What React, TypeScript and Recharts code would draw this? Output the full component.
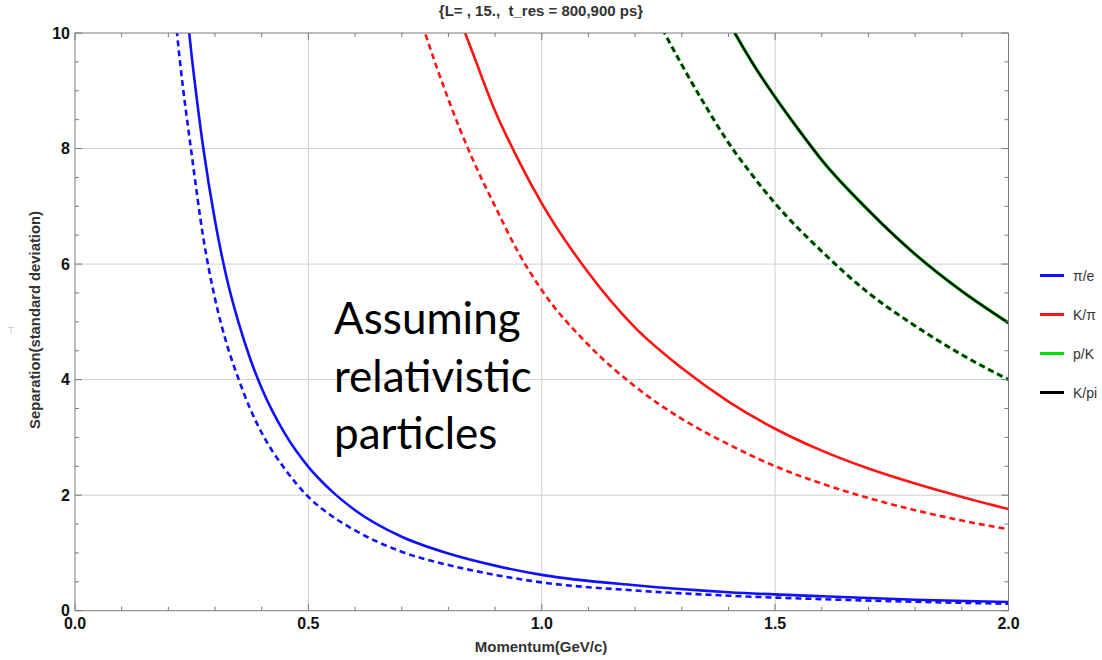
import React from "react";
import { LineChart, Line, XAxis, YAxis, CartesianGrid, Legend } from "recharts";

// [momentum GeV/c, separation in sigma]; values above 10 run off the top of the frame
const piE800: [number, number][] = [
  [0.225, 11.5], [0.25, 9.6], [0.275, 8.0], [0.3, 6.75], [0.325, 5.76], [0.35, 5.0],
  [0.375, 4.37], [0.4, 3.85], [0.45, 3.06], [0.5, 2.49], [0.55, 2.07], [0.6, 1.74],
  [0.7, 1.28], [0.8, 0.99], [0.9, 0.78], [1.0, 0.62], [1.2, 0.44], [1.4, 0.32],
  [1.6, 0.25], [1.8, 0.19], [2.0, 0.15],
];
const piE900: [number, number][] = [
  [0.2, 11.6], [0.225, 9.5], [0.25, 7.9], [0.275, 6.45], [0.3, 5.4], [0.325, 4.62],
  [0.35, 4.02], [0.375, 3.5], [0.4, 3.08], [0.45, 2.45], [0.5, 1.97], [0.55, 1.64],
  [0.6, 1.39], [0.7, 1.02], [0.8, 0.79], [0.9, 0.62], [1.0, 0.49], [1.2, 0.35],
  [1.4, 0.26], [1.6, 0.2], [1.8, 0.155], [2.0, 0.12],
];
const kPi800: [number, number][] = [
  [0.8, 10.75], [0.85, 9.7], [0.9, 8.65], [0.95, 7.8], [1.0, 7.05], [1.1, 5.85],
  [1.2, 4.9], [1.3, 4.2], [1.4, 3.62], [1.5, 3.15], [1.6, 2.77], [1.7, 2.46],
  [1.8, 2.2], [1.9, 1.97], [2.0, 1.76],
];
const kPi900: [number, number][] = [
  [0.7, 11.3], [0.75, 10.0], [0.8, 8.85], [0.85, 7.85], [0.9, 7.0], [0.95, 6.2],
  [1.0, 5.55], [1.1, 4.6], [1.2, 3.88], [1.3, 3.32], [1.4, 2.88], [1.5, 2.5],
  [1.6, 2.2], [1.7, 1.95], [1.8, 1.74], [1.9, 1.56], [2.0, 1.41],
];
const pK800: [number, number][] = [
  [1.35, 11.0], [1.4, 10.2], [1.45, 9.5], [1.5, 8.89], [1.55, 8.33], [1.6, 7.8],
  [1.7, 6.93], [1.8, 6.17], [1.9, 5.53], [2.0, 4.98],
];
const pK900: [number, number][] = [
  [1.2, 11.0], [1.25, 10.2], [1.3, 9.45], [1.35, 8.75], [1.4, 8.1], [1.45, 7.55],
  [1.5, 7.05], [1.6, 6.22], [1.7, 5.5], [1.8, 4.93], [1.9, 4.43], [2.0, 4.0],
];

const legendOrder = ["π/e", "K/π", "p/K", "K/pi"];

const xTicks = [0, 0.1, 0.2, 0.3, 0.4, 0.5, 0.6, 0.7, 0.8, 0.9, 1.0, 1.1, 1.2, 1.3, 1.4, 1.5, 1.6, 1.7, 1.8, 1.9, 2.0];
const xLabels = [0, 0.5, 1.0, 1.5, 2.0];
const yTicks = [0, 0.5, 1, 1.5, 2, 2.5, 3, 3.5, 4, 4.5, 5, 5.5, 6, 6.5, 7, 7.5, 8, 8.5, 9, 9.5, 10];
const yLabels = [0, 2, 4, 6, 8, 10];

const toRows = (pts: [number, number][]) => pts.map(([p, s]) => ({ p, s }));

const BLUE = "#1010ff";
const RED = "#ff1414";
const GREEN = "#00e000";
const BLACK = "#000000";
const FRAME = "#7a7a7a";
const tickFont = { fontFamily: "Liberation Sans, Arial, sans-serif", fontWeight: 700, fontSize: 16, fill: "#111" };

const isLabel = (list: number[], v: number) => list.some((l) => Math.abs(l - v) < 1e-6);

function BottomTick(props: any) {
  const { x, y, payload } = props;
  const major = isLabel(xLabels, payload.value);
  return (
    <g>
      <line x1={x} x2={x} y1={y} y2={y - (major ? 7 : 4)} stroke={FRAME} />
      {major && (
        <text x={x} y={y + 18.5} textAnchor="middle" {...tickFont}>
          {payload.value.toFixed(1)}
        </text>
      )}
    </g>
  );
}

function TopTick(props: any) {
  const { x, y, payload } = props;
  const major = isLabel(xLabels, payload.value);
  return <line x1={x} x2={x} y1={y} y2={y + (major ? 7 : 4)} stroke={FRAME} />;
}

function LeftTick(props: any) {
  const { x, y, payload } = props;
  const major = isLabel(yLabels, payload.value);
  return (
    <g>
      <line x1={x} x2={x + (major ? 7 : 4)} y1={y} y2={y} stroke={FRAME} />
      {major && (
        <text x={x - 5} y={y + 5.5} textAnchor="end" {...tickFont}>
          {payload.value}
        </text>
      )}
    </g>
  );
}

function RightTick(props: any) {
  const { x, y, payload } = props;
  const major = isLabel(yLabels, payload.value);
  return <line x1={x} x2={x - (major ? 7 : 4)} y1={y} y2={y} stroke={FRAME} />;
}

function LegendBox(props: any) {
  const items = (props.payload || [])
    .filter((item: any) => legendOrder.includes(item.value))
    .sort((a: any, b: any) => legendOrder.indexOf(a.value) - legendOrder.indexOf(b.value));
  return (
    <div>
      {items.map((item: any) => (
        <div key={item.value} style={{ display: "flex", alignItems: "center", height: 39 }}>
          <div style={{ width: 24, height: 3, background: item.color, marginRight: 9 }} />
          <span style={{ fontFamily: "Liberation Sans, Arial, sans-serif", fontSize: 14, color: "#333" }}>
            {item.value}
          </span>
        </div>
      ))}
    </div>
  );
}

export default function App() {
  const common = { type: "monotone" as const, dataKey: "s", dot: false, isAnimationActive: false, activeDot: false };
  return (
    <div style={{ position: "absolute", left: 0, top: 0, width: 1102, height: 660, background: "#fff" }}>
      <LineChart width={1102} height={660} margin={{ top: 32, right: 92.5, bottom: 19.3, left: 35 }}>
        <CartesianGrid
          stroke="#cfcfcf"
          horizontalValues={[2, 4, 6, 8]}
          verticalValues={[0.5, 1.0, 1.5]}
        />
        <XAxis
          type="number"
          dataKey="p"
          domain={[0, 2]}
          ticks={xTicks}
          allowDataOverflow
          height={30}
          tickSize={0}
          tickMargin={0}
          tickLine={false}
          axisLine={{ stroke: FRAME }}
          tick={<BottomTick />}
          interval={0}
        />
        <XAxis
          xAxisId="top"
          orientation="top"
          type="number"
          dataKey="p"
          domain={[0, 2]}
          ticks={xTicks}
          allowDataOverflow
          height={1}
          tickSize={0}
          tickMargin={0}
          tickLine={false}
          axisLine={{ stroke: FRAME }}
          tick={<TopTick />}
          interval={0}
        />
        <YAxis
          type="number"
          domain={[0, 10]}
          ticks={yTicks}
          allowDataOverflow
          width={40}
          tickSize={0}
          tickMargin={0}
          tickLine={false}
          axisLine={{ stroke: FRAME }}
          tick={<LeftTick />}
          interval={0}
        />
        <YAxis
          yAxisId="right"
          orientation="right"
          type="number"
          domain={[0, 10]}
          ticks={yTicks}
          allowDataOverflow
          width={1}
          tickSize={0}
          tickMargin={0}
          tickLine={false}
          axisLine={{ stroke: FRAME }}
          tick={<RightTick />}
          interval={0}
        />
        <Legend
          layout="vertical"
          align="center"
          verticalAlign="middle"
          content={<LegendBox />}
          wrapperStyle={{ left: 1040, top: 256, width: 62 }}
        />
        <Line {...common} data={toRows(piE800)} name="π/e" stroke={BLUE} strokeWidth={2.6} />
        <Line {...common} data={toRows(kPi800)} name="K/π" stroke={RED} strokeWidth={2.6} />
        <Line {...common} data={toRows(pK800)} name="p/K" stroke={GREEN} strokeWidth={3.4} />
        <Line {...common} data={toRows(pK800)} name="K/pi" stroke={BLACK} strokeWidth={2.2} />
        <Line {...common} data={toRows(piE900)} name="π/e 900" legendType="none" stroke={BLUE} strokeWidth={2.6} strokeDasharray="6 4" />
        <Line {...common} data={toRows(kPi900)} name="K/π 900" legendType="none" stroke={RED} strokeWidth={2.6} strokeDasharray="6 4" />
        <Line {...common} data={toRows(pK900)} name="p/K 900" legendType="none" stroke={GREEN} strokeWidth={3.4} strokeDasharray="6 4" />
        <Line {...common} data={toRows(pK900)} name="K/pi 900" legendType="none" stroke="#0a2a0a" strokeWidth={2.4} strokeDasharray="6 4" />
      </LineChart>

      <div
        style={{
          position: "absolute", left: 0, top: 2, width: 1082, textAlign: "center", whiteSpace: "pre",
          fontFamily: "Liberation Sans, Arial, sans-serif", fontWeight: 700, fontSize: 15, color: "#333",
        }}
      >
        {"{L= , 15.,  t_res = 800,900 ps}"}
      </div>
      <div
        style={{
          position: "absolute", left: 0, top: 638, width: 1082, textAlign: "center",
          fontFamily: "Liberation Sans, Arial, sans-serif", fontWeight: 700, fontSize: 15, color: "#333",
        }}
      >
        Momentum(GeV/c)
      </div>
      <div
        style={{
          position: "absolute", left: 35, top: 320, transform: "translate(-50%, -50%) rotate(-90deg)",
          whiteSpace: "nowrap", fontFamily: "Liberation Sans, Arial, sans-serif", fontWeight: 700,
          fontSize: 14.8, color: "#333",
        }}
      >
        Separation(standard deviation)
      </div>
      <div
        style={{
          position: "absolute", left: 7, top: 326, fontFamily: "DejaVu Sans, sans-serif",
          fontSize: 9, color: "#b0b0b0",
        }}
      >
        ⊤
      </div>
      <div
        style={{
          position: "absolute", left: 334, top: 289, fontFamily: "Lato, sans-serif",
          fontSize: 44, lineHeight: "57.5px", color: "#000",
        }}
      >
        Assuming
        <br />
        relativistic
        <br />
        particles
      </div>
    </div>
  );
}
